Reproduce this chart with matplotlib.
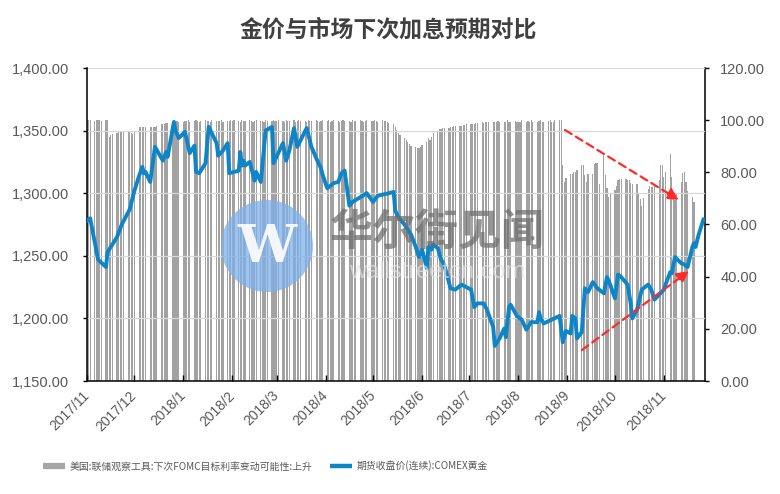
import matplotlib
matplotlib.use("Agg")
import matplotlib.pyplot as plt
from matplotlib.ticker import FuncFormatter, MultipleLocator
from matplotlib.lines import Line2D
from matplotlib.patches import Ellipse
import pandas as pd

plt.rcParams['font.family'] = ['Liberation Sans', 'Noto Sans CJK SC', 'DejaVu Sans']

# ---------------- data ----------------
title = "金价与市场下次加息预期对比"
bar_label = "美国:联储观察工具:下次FOMC目标利率变动可能性:上升"
line_label = "期货收盘价(连续):COMEX黄金"

# Probability (right axis), one value per business day, by month
prob_months = ["2017-11", "2017-12", "2018-01", "2018-02", "2018-03", "2018-04",
               "2018-05", "2018-06", "2018-07", "2018-08", "2018-09", "2018-10", "2018-11"]
prob_2017_11 = [100, 100, 100, 99.8, 100, 100, 100, 99.6, 100, 100,
                93.6, 94.2, 94.8, 95, 95.3, 95.6, 96, 96, 95.8, 95.5, 95.2, 94.8]
prob_2017_12 = [95.5, 97.4, 97.4, 97.4, 97.5, 97.4, 97.4, 97.5, 97.4, 97.4, 97.6,
                98.5, 98.5, 98.6, 98.8, 98.9, 99, 99.2, 99.4, 99.5, 99.4]
prob_2018_01 = [99.4, 99.6, 99.5, 100, 99.4, 99.6, 100, 99.5, 99.4, 99.7, 100, 99.5,
                99.6, 99.4, 100, 99.8, 99.5, 99.6, 100, 99.4, 99.7, 99.5, 100]
prob_2018_02 = [99.6, 100, 99.5, 99.4, 100, 99.6, 99.5, 100, 99.7, 99.4,
                99.6, 100, 99.5, 99.8, 99.4, 100, 99.6, 99.5, 100, 99.7]
prob_2018_03 = [99.5, 100, 99.6, 99.4, 100, 99.7, 99.5, 100, 99.4, 99.6, 100,
                99.5, 99.8, 99.4, 100, 99.6, 99.5, 100, 99.7, 99.4, 99.6, 100]
prob_2018_04 = [99.6, 100, 99.4, 99.5, 100, 99.7, 99.4, 99.6, 100, 99.5, 99.8,
                99.4, 100, 99.6, 99.5, 100, 99.7, 99.4, 99.6, 100, 99.5]
prob_2018_05 = [99.6, 100, 99.5, 99.4, 100, 99.6, 99.5, 99.2, 98.8,
                98.5, 97.5, 96.2, 95.2, 94.3, 93.3, 92.4, 91.5, 90.8, 90.1, 89.6, 89.3, 89.3, 89.8]
prob_2018_06 = [90.5, 91.5, 93, 92.4, 93.5, 95, 95.5, 96.5, 96.8, 97, 97,
                97, 97.2, 97.5, 97.7, 97.7, 97.7, 97.8, 98, 98.2, 98.5]
prob_2018_07 = [98.5, 98.6, 98.5, 98.8, 99, 99.2, 99, 99.2, 99.4, 99.2, 99.2,
                99.4, 99.2, 99.5, 99.2, 99.4, 99.2, 100, 99.2, 99.4, 99.5, 99.2]
prob_2018_08 = [99.2, 99.4, 100, 99.2, 99.5, 99.2, 100, 99.4, 99.2, 99.6, 100, 99.2,
                99.4, 99.5, 100, 99.2, 99.4, 100, 100, 100, 82.7, 76.2, 78]
prob_2018_09 = [79.4, 79.4, 80, 80, 81, 83, 83, 79, 76.2, 79.4,
                79.4, 83.3, 83.5, 83.5, 75.6, 86.5, 78.8, 74, 70.4, 72]
prob_2018_10 = [73.2, 74.9, 76.9, 77.5, 77.5, 77.5, 77.1, 77.1, 76, 75.6, 75.6, 72,
                69.8, 67, 70, 73.6, 74.9, 74.5, 74.5, 75, 76.9, 82.7, 82.7]
prob_2018_11 = [78.1, 80, 87.1, 78.1, 72, 69.5, 72, 76.2, 79.7, 80.1, 76.2, 73, 70.7, 68.5]
prob_values = [prob_2017_11, prob_2017_12, prob_2018_01, prob_2018_02, prob_2018_03,
               prob_2018_04, prob_2018_05, prob_2018_06, prob_2018_07, prob_2018_08,
               prob_2018_09, prob_2018_10, prob_2018_11]

# COMEX gold close (left axis)
gold_dates = [
    "2017-11-01", "2017-11-03", "2017-11-08", "2017-11-13", "2017-11-14", "2017-11-20",
    "2017-11-23", "2017-11-28", "2017-12-01", "2017-12-04", "2017-12-06", "2017-12-07",
    "2017-12-08", "2017-12-11", "2017-12-14", "2017-12-19", "2017-12-21", "2017-12-22",
    "2017-12-26", "2017-12-27", "2017-12-29", "2018-01-02", "2018-01-05", "2018-01-08",
    "2018-01-09", "2018-01-11", "2018-01-15", "2018-01-17", "2018-01-22", "2018-01-23",
    "2018-01-26", "2018-01-29", "2018-01-30", "2018-02-05", "2018-02-06", "2018-02-07",
    "2018-02-08", "2018-02-09", "2018-02-12", "2018-02-15", "2018-02-16", "2018-02-19",
    "2018-02-22", "2018-02-26", "2018-02-27", "2018-03-05", "2018-03-07", "2018-03-09",
    "2018-03-12", "2018-03-14", "2018-03-20", "2018-03-23", "2018-03-26", "2018-03-29",
    "2018-03-30", "2018-04-02", "2018-04-06", "2018-04-09", "2018-04-11", "2018-04-13",
    "2018-04-16", "2018-04-18", "2018-04-27", "2018-05-01", "2018-05-04", "2018-05-11",
    "2018-05-14", "2018-05-15", "2018-05-17", "2018-05-22", "2018-05-25", "2018-05-28",
    "2018-05-30", "2018-06-01", "2018-06-04", "2018-06-05", "2018-06-07", "2018-06-08",
    "2018-06-11", "2018-06-13", "2018-06-15", "2018-06-19", "2018-06-22", "2018-06-26",
    "2018-07-02", "2018-07-04", "2018-07-06", "2018-07-10", "2018-07-12", "2018-07-16",
    "2018-07-17", "2018-07-20", "2018-07-23", "2018-07-24", "2018-07-26", "2018-07-27",
    "2018-07-31", "2018-08-03", "2018-08-06", "2018-08-09", "2018-08-13", "2018-08-14",
    "2018-08-15", "2018-08-17", "2018-08-22", "2018-08-27", "2018-08-29", "2018-08-31",
    "2018-09-03", "2018-09-04", "2018-09-06", "2018-09-07", "2018-09-10", "2018-09-12",
    "2018-09-14", "2018-09-17", "2018-09-20", "2018-09-24", "2018-09-26", "2018-09-28",
    "2018-10-01", "2018-10-03", "2018-10-05", "2018-10-09", "2018-10-11", "2018-10-12",
    "2018-10-15", "2018-10-18", "2018-10-22", "2018-10-24", "2018-10-26", "2018-11-01",
    "2018-11-02", "2018-11-05", "2018-11-06", "2018-11-08", "2018-11-12", "2018-11-14",
    "2018-11-16", "2018-11-19", "2018-11-20", "2018-11-21", "2018-11-23", "2018-11-26",
]
gold_values = [
    1278, 1280, 1247, 1241, 1253, 1265,
    1275, 1287, 1302, 1314, 1321, 1316,
    1317, 1309, 1337, 1326, 1333, 1329,
    1357, 1350, 1344, 1349, 1332, 1338,
    1317, 1316, 1324, 1353, 1340, 1330,
    1334, 1340, 1316, 1318, 1333, 1322,
    1326, 1322, 1325, 1310, 1317, 1309,
    1350, 1353, 1324, 1340, 1326, 1334,
    1352, 1337, 1352, 1337, 1328, 1320,
    1315, 1304, 1308, 1309, 1316, 1318,
    1290, 1293, 1300, 1293, 1298, 1300,
    1301, 1286, 1281, 1273, 1267, 1257,
    1249, 1255, 1240, 1257, 1255, 1259,
    1256, 1247, 1243, 1224, 1223, 1227,
    1223, 1209, 1212, 1212, 1207, 1193,
    1178, 1184, 1192, 1185, 1209, 1211,
    1202, 1199, 1191, 1197, 1197, 1205,
    1200, 1196, 1199, 1202, 1181, 1190,
    1188, 1202, 1200, 1184, 1189, 1224,
    1221, 1229, 1224, 1220, 1233, 1227,
    1216, 1235, 1233, 1227, 1212, 1200,
    1207, 1223, 1227, 1223, 1215, 1223,
    1227, 1237, 1236, 1249, 1244, 1243,
    1241, 1257, 1260, 1257, 1267, 1279,
]

x_tick_months = ["2017-11", "2017-12", "2018-01", "2018-02", "2018-03", "2018-04", "2018-05",
                 "2018-06", "2018-07", "2018-08", "2018-09", "2018-10", "2018-11"]
x_tick_labels = ["2017/11", "2017/12", "2018/1", "2018/2", "2018/3", "2018/4", "2018/5",
                 "2018/6", "2018/7", "2018/8", "2018/9", "2018/10", "2018/11"]

# ---------------- build series ----------------
bar_dates, bar_vals = [], []
for m, vals in zip(prob_months, prob_values):
    start = pd.Timestamp(m + "-01")
    end = start + pd.offsets.MonthEnd(0)
    days = pd.bdate_range(start, end)
    n = min(len(days), len(vals))
    bar_dates.extend(days[:n])
    bar_vals.extend(vals[:n])

gold_x = pd.to_datetime(gold_dates)

# ---------------- figure ----------------
W, H = 780, 494
fig = plt.figure(figsize=(W / 100, H / 100), dpi=100)
L, R, T, B = 87, 705, 68, 381
ax = fig.add_axes([L / W, 1 - B / H, (R - L) / W, (B - T) / H])
ax2 = ax.twinx()

ax2.bar(bar_dates, bar_vals, width=0.75, color="#A2A2A2", linewidth=0, zorder=2)
ax.plot(gold_x, gold_values, color="#0F85C9", linewidth=2.8, solid_joinstyle="round", zorder=5)

ax.set_zorder(ax2.get_zorder() + 1)
ax.patch.set_visible(False)

ax.set_xlim(pd.Timestamp("2017-11-01"), pd.Timestamp("2018-11-27"))
ax.set_ylim(1150, 1400)
ax2.set_ylim(0, 120)

ax.yaxis.set_major_locator(MultipleLocator(50))
ax.yaxis.set_major_formatter(FuncFormatter(lambda v, p: f"{v:,.2f}"))
ax2.yaxis.set_major_locator(MultipleLocator(20))
ax2.yaxis.set_major_formatter(FuncFormatter(lambda v, p: f"{v:.2f}"))

ax.set_xticks([pd.Timestamp(m + "-01") for m in x_tick_months])
ax.set_xticklabels(x_tick_labels)

ax.grid(axis="y", color="#D9D9D9", linewidth=0.9)
ax.set_axisbelow(True)

for a in (ax, ax2):
    a.spines["top"].set_visible(False)
ax.spines["right"].set_visible(False)
ax2.spines["left"].set_visible(False)
ax2.spines["bottom"].set_visible(False)
for s in ("left", "bottom"):
    ax.spines[s].set_color("black")
    ax.spines[s].set_linewidth(1.1)
ax2.spines["right"].set_color("black")
ax2.spines["right"].set_linewidth(1.1)

lab_color = "#595959"
ax.tick_params(axis="y", direction="out", length=3, width=1, color="black",
               labelsize=10.5, labelcolor=lab_color, pad=10)
ax2.tick_params(axis="y", direction="out", length=3, width=1, color="black",
                labelsize=10.5, labelcolor=lab_color, pad=8)
ax.tick_params(axis="x", direction="in", length=4, width=1, color="black",
               labelsize=10, labelcolor=lab_color, pad=9)
for t in ax.get_xticklabels():
    t.set_rotation(45)
    t.set_ha("right")
    t.set_va("center")
    t.set_rotation_mode("anchor")

# title
cjk = ["Noto Sans CJK SC", "DejaVu Sans"]
fig.text(388.5 / W, 1 - 30 / H, title, ha="center", va="center", fontsize=16.5,
         fontweight="bold", color="#404040", family=cjk)

# trend arrows (axes-fraction overlay)
def to_ax(px, py):
    return ((px - L) / (R - L), (B - py) / (B - T))

for (sx, sy), (ex, ey) in [((565, 130), (679, 200)), ((582, 350), (689, 271))]:
    ax.annotate("", xy=to_ax(ex, ey), xytext=to_ax(sx, sy), xycoords="axes fraction",
                textcoords="axes fraction", zorder=8,
                arrowprops=dict(arrowstyle="-|>,head_length=0.7,head_width=0.35",
                                color="#FF2A2A", lw=1.6, linestyle=(0, (3.5, 2.2)),
                                shrinkA=0, shrinkB=0))

# watermark
circ = Ellipse((267 / W, 1 - 246 / H), 92 / W, 92 / H, transform=fig.transFigure,
               facecolor="#7DB0EA", edgecolor="none", alpha=0.75, zorder=20)
fig.patches.append(circ)
fig.text(267 / W, 1 - 248 / H, "W", ha="center", va="center", fontsize=38,
         family="DejaVu Serif", fontweight="bold", color="white", alpha=0.9, zorder=21)
fig.text(437 / W, 1 - 232 / H, "华尔街见闻", ha="center", va="center", fontsize=31,
         fontweight="bold", color="#6E6E6E", alpha=0.72, family=cjk, zorder=21)
fig.text(437 / W, 1 - 272 / H, "wallstreetcn.com", ha="center", va="center", fontsize=17,
         color="#E2E2E2", alpha=0.7, zorder=21)

# legend
handles = [Line2D([], [], color="#A6A6A6", linewidth=4.5, solid_capstyle="butt"),
           Line2D([], [], color="#0F85C9", linewidth=3.2, solid_capstyle="butt")]
leg = fig.legend(handles, [bar_label, line_label], loc="center left",
                 bbox_to_anchor=(34 / W, 1 - 466 / H), ncol=2, frameon=False,
                 handlelength=2.2, handletextpad=0.5, columnspacing=1.8,
                 prop={"family": cjk, "size": 7.1})
for t in leg.get_texts():
    t.set_color(lab_color)

fig.savefig("out.png", dpi=100)
